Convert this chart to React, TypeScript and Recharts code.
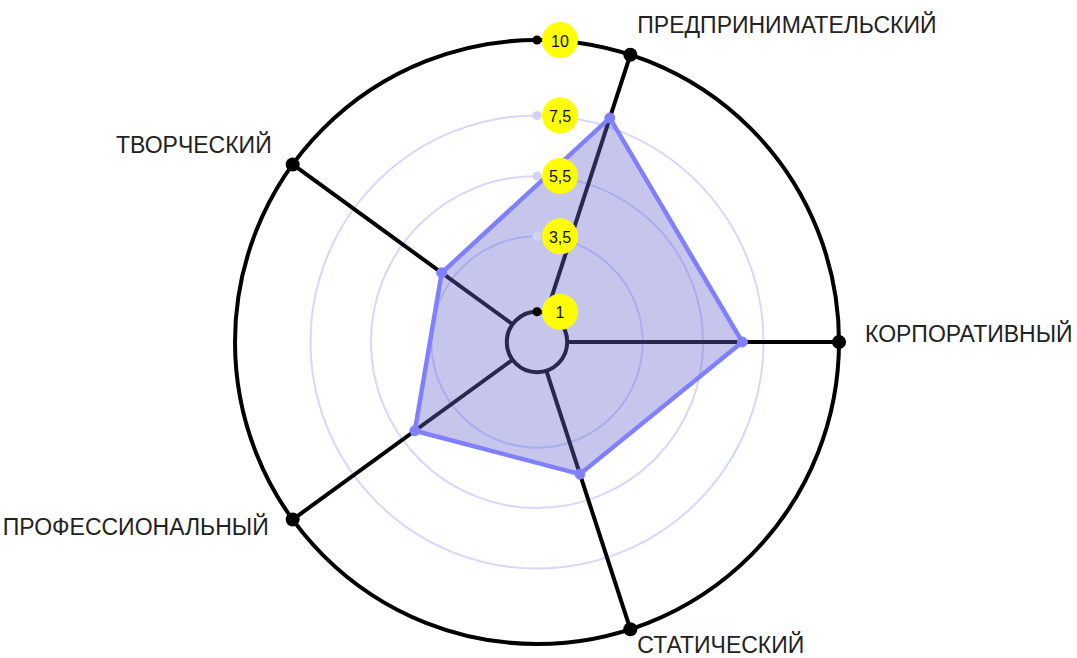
import React from 'react';
import { RadarChart, Radar, PolarGrid, PolarAngleAxis, PolarRadiusAxis } from 'recharts';

// categories listed clockwise starting from the right-hand axis
const subjects = ['КОРПОРАТИВНЫЙ', 'СТАТИЧЕСКИЙ', 'ПРОФЕССИОНАЛЬНЫЙ', 'ТВОРЧЕСКИЙ', 'ПРЕДПРИНИМАТЕЛЬСКИЙ'];
const scores = [6.8, 4.6, 5.0, 3.9, 7.8];
const radiusTicks = [1, 3.5, 5.5, 7.5, 10];

const data = subjects.map((subject, i) => ({ subject, score: scores[i] }));

const CX = 537;
const CY = 342;
const OUTER_R = 302;
const INNER_R = 30.2;
const FONT = '"Liberation Sans", Arial, sans-serif';

// label offset from the axis end dot: [dx, dy, anchor]
const labelOffsets: Record<string, [number, number, 'start' | 'end']> = {
  'КОРПОРАТИВНЫЙ': [26, -8, 'start'],
  'ПРЕДПРИНИМАТЕЛЬСКИЙ': [7, -30, 'start'],
  'ТВОРЧЕСКИЙ': [-21, -19, 'end'],
  'ПРОФЕССИОНАЛЬНЫЙ': [-24, 7, 'end'],
  'СТАТИЧЕСКИЙ': [7, 16, 'start'],
};

const AngleTick = (props: any) => {
  const { x, y, payload } = props;
  // the tick point sits a little outside the axis circle; pull the dot back onto it
  const dist = Math.hypot(x - CX, y - CY) || 1;
  const px = CX + ((x - CX) * OUTER_R) / dist;
  const py = CY + ((y - CY) * OUTER_R) / dist;
  const [dx, dy, anchor] = labelOffsets[payload.value] || [0, 0, 'start'];
  return (
    <g>
      <circle cx={px} cy={py} r={7} fill="#000" />
      <text
        x={px + dx}
        y={py + dy}
        textAnchor={anchor}
        dominantBaseline="central"
        fontSize={23}
        fontFamily={FONT}
        fill="#222"
      >
        {payload.value}
      </text>
    </g>
  );
};

const RadiusTick = (props: any) => {
  const { x, y, payload } = props;
  const v = payload.value;
  const edge = v === radiusTicks[0] || v === radiusTicks[radiusTicks.length - 1];
  return (
    <g>
      <circle cx={x} cy={y} r={4.5} fill={edge ? '#000' : '#d2d2ff'} />
      <circle cx={x + 23} cy={y} r={18} fill="#ffff00" />
      <text
        x={x + 23}
        y={y + 1}
        textAnchor="middle"
        dominantBaseline="central"
        fontSize={16}
        fontFamily={FONT}
        fill="#111"
      >
        {String(v).replace('.', ',')}
      </text>
    </g>
  );
};

export default function App() {
  return (
    <div style={{ position: 'absolute', left: 0, top: 0, background: '#fff' }}>
      <RadarChart
        width={1077}
        height={658}
        data={data}
        cx={CX}
        cy={CY}
        innerRadius={INNER_R}
        outerRadius={OUTER_R}
        startAngle={0}
        endAngle={-360}
        margin={{ top: 0, right: 0, bottom: 0, left: 0 }}
      >
        <PolarGrid gridType="circle" radialLines={false} stroke="#d6d6ff" strokeWidth={2} />
        <PolarGrid gridType="circle" polarRadius={[INNER_R]} stroke="#000" strokeWidth={4} />
        <PolarAngleAxis
          dataKey="subject"
          axisLineType="circle"
          axisLine={{ stroke: '#000', strokeWidth: 4 }}
          tickLine={false}
          tick={<AngleTick />}
        />
        <PolarRadiusAxis
          angle={90}
          domain={[1, 10]}
          ticks={radiusTicks as any}
          axisLine={false}
          tickLine={false}
          tick={<RadiusTick />}
        />
        <Radar
          dataKey="score"
          stroke="#8080ff"
          strokeWidth={4.5}
          fill="#6a6ad0"
          fillOpacity={0.38}
          dot={{ r: 5, fill: '#8080ff', stroke: '#8080ff', fillOpacity: 1, strokeWidth: 1 }}
          isAnimationActive={false}
        />
      </RadarChart>
    </div>
  );
}
